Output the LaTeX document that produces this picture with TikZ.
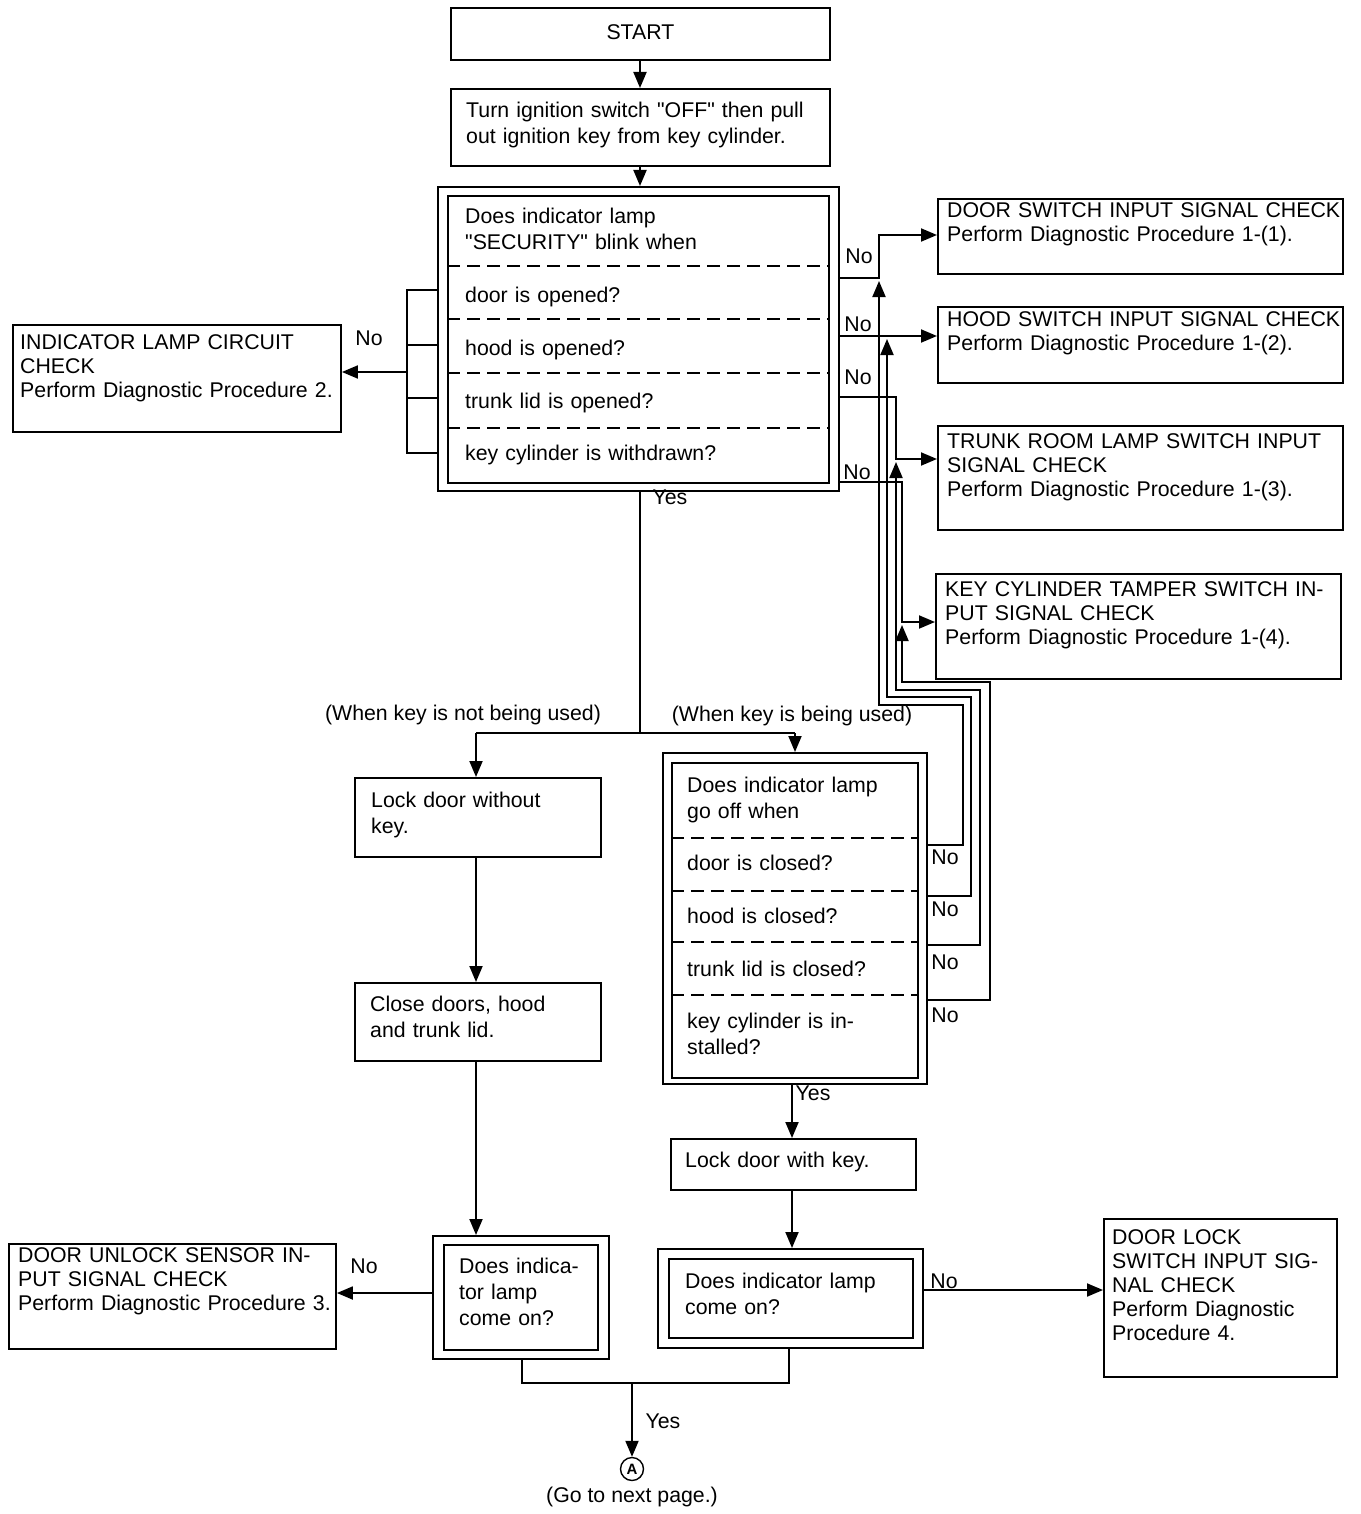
\documentclass[tikz,border=0pt]{standalone}
\usepackage{fontspec}
\setmainfont{Liberation Sans}[Ligatures=TeXOff]
\usetikzlibrary{arrows.meta,calc}
\newcommand\fsA{\fontsize{21.3}{24}\selectfont}
\newcommand\fsB{\fontsize{21.3}{26}\selectfont}
\begin{document}
\begin{tikzpicture}[x=1pt,y=-1pt,
  box/.style={draw, line width=1.9pt, rectangle, inner sep=0pt, anchor=north west},
  inbox/.style={draw, line width=1.6pt, rectangle, inner sep=0pt, anchor=north west},
  txa/.style={font=\fsA, align=left, text width=420pt, inner sep=0pt, anchor=base west},
  txb/.style={font=\fsB, align=left, text width=420pt, inner sep=0pt, anchor=base west},
  lbl/.style={font=\fsA, inner sep=0pt},
  conn/.style={line width=1.9pt},
  arr/.style={line width=1.9pt, -{Triangle[length=16pt,width=13pt]}},
  divd/.style={line width=1.5pt, dash pattern=on 13pt off 7pt},
]
\fill[white] (0,0) rectangle (1360,1514);
\useasboundingbox (0,0) rectangle (1360,1514);

% START and first step
\node[box, font=\fsA, text depth=4pt, minimum width=379pt, minimum height=52pt] (start) at (450,7) {START};
\node[box, minimum width=379pt, minimum height=77pt] (turn) at (450,88) {};
\node[txb] (turnt) at (466,117.5) {Turn ignition switch "OFF" then pull\\out ignition key from key cylinder.};
\draw[arr] (start.south -| 640,0) -- (turn.north -| 640,0);

% first decision box
\node[box, minimum width=401pt, minimum height=304pt] (q1) at (437,186) {};
\node[inbox, minimum width=381pt, minimum height=287pt] (q1in) at (447,195) {};
\draw[arr] (turn.south -| 640,0) -- (q1.north -| 640,0);
\draw[divd] (447,266) -- (828,266);
\draw[divd] (447,319) -- (828,319);
\draw[divd] (447,373) -- (828,373);
\draw[divd] (447,428) -- (828,428);
\node[txb] (q1t) at (465,223.5) {Does indicator lamp\\"SECURITY" blink when};
\node[txa] (q1a) at (465,302.5) {door is opened?};
\node[txa] (q1b) at (465,355.5) {hood is opened?};
\node[txa] (q1c) at (465,408.5) {trunk lid is opened?};
\node[txa] (q1d) at (465,460.5) {key cylinder is withdrawn?};

% left check
\node[box, minimum width=328pt, minimum height=107pt] (ind) at (12,324) {};
\node[txa] (indt) at (20,349.5) {INDICATOR LAMP CIRCUIT\\CHECK\\Perform Diagnostic Procedure 2.};
\draw[conn] (q1.west |- 0,290) -- (407,290) -- (407,453) -- (q1.west |- 0,453);
\draw[conn] (407,345) -- (q1.west |- 0,345);
\draw[conn] (407,398) -- (q1.west |- 0,398);
\draw[arr] (407,372) -- (ind.east |- 0,372);
\node[lbl] (no0) at (369,338) {No};

% right checks
\node[box, minimum width=405pt, minimum height=75pt] (dsw) at (937,198) {};
\node[txa] (dswt) at (947,217.5) {DOOR SWITCH INPUT SIGNAL CHECK\\Perform Diagnostic Procedure 1-(1).};
\node[box, minimum width=405pt, minimum height=76pt] (hsw) at (937,306) {};
\node[txa] (hswt) at (947,326.5) {HOOD SWITCH INPUT SIGNAL CHECK\\Perform Diagnostic Procedure 1-(2).};
\node[box, minimum width=405pt, minimum height=104pt] (tsw) at (937,425) {};
\node[txa] (tswt) at (947,448.5) {TRUNK ROOM LAMP SWITCH INPUT\\SIGNAL CHECK\\Perform Diagnostic Procedure 1-(3).};
\node[box, minimum width=405pt, minimum height=105pt] (ksw) at (935,573) {};
\node[txa] (kswt) at (945,596.5) {KEY CYLINDER TAMPER SWITCH IN-\\PUT SIGNAL CHECK\\Perform Diagnostic Procedure 1-(4).};

\coordinate (j1) at (879,278);
\coordinate (j2) at (887,336);
\coordinate (j3) at (896,459);
\coordinate (j4) at (902,622);
\draw[arr] (q1.east |- j1) -- (j1) -- (879,235) -- (dsw.west |- 0,235);
\draw[arr] (q1.east |- j2) -- (hsw.west |- j2);
\draw[arr] (q1.east |- 0,397) -| (j3) -- (tsw.west |- j3);
\draw[arr] (q1.east |- 0,482) -| (j4) -- (ksw.west |- j4);
\node[lbl] (no1) at (859,256) {No};
\node[lbl] (no2) at (858,324) {No};
\node[lbl] (no3) at (858,377) {No};
\node[lbl] (no4) at (857,472) {No};

% Yes split
\coordinate (ysplit) at (640,733);
\draw[conn] (q1.south -| ysplit) -- (ysplit);
\node[lbl] (yes1) at (670,497) {Yes};
\draw[conn] (476,733) -- (795,733);
\node[lbl] (wk1) at (463,715) {(When key is not being used)};
\node[lbl] (wk2) at (792,716) {(When key is being used)};

% left column
\node[box, minimum width=246pt, minimum height=79pt] (lk1) at (354,777) {};
\node[txb] (lk1t) at (371,807.5) {Lock door without\\key.};
\node[box, minimum width=246pt, minimum height=78pt] (cl) at (354,982) {};
\node[txb] (clt) at (370,1011.5) {Close doors, hood\\and trunk lid.};
\draw[arr] (476,733) -- (lk1.north -| 476,0);
\draw[arr] (lk1.south -| 476,0) -- (cl.north -| 476,0);

\node[box, minimum width=176pt, minimum height=123pt] (q3) at (432,1235) {};
\node[inbox, minimum width=154pt, minimum height=105pt] (q3in) at (443,1244) {};
\node[txb] (q3t) at (459,1273.5) {Does indica-\\tor lamp\\come on?};
\draw[arr] (cl.south -| 476,0) -- (q3.north -| 476,0);

\node[box, minimum width=327pt, minimum height=105pt] (du) at (8,1243) {};
\node[txa] (dut) at (18,1262.5) {DOOR UNLOCK SENSOR IN-\\PUT SIGNAL CHECK\\Perform Diagnostic Procedure 3.};
\draw[arr] (q3.west |- 0,1293) -- (du.east |- 0,1293);
\node[lbl] (no5) at (364,1266) {No};

% second decision box
\node[box, minimum width=264pt, minimum height=331pt] (q2) at (662,752) {};
\node[inbox, minimum width=246pt, minimum height=315pt] (q2in) at (671,762) {};
\draw[arr] (795,733) -- (q2.north -| 795,0);
\draw[divd] (671,838) -- (917,838);
\draw[divd] (671,891) -- (917,891);
\draw[divd] (671,942) -- (917,942);
\draw[divd] (671,995) -- (917,995);
\node[txb] (q2t) at (687,792.5) {Does indicator lamp\\go off when};
\node[txa] (q2a) at (687,870.5) {door is closed?};
\node[txa] (q2b) at (687,923.5) {hood is closed?};
\node[txa] (q2c) at (687,976.5) {trunk lid is closed?};
\node[txb] (q2d) at (687,1028.5) {key cylinder is in-\\stalled?};

% return lines
\draw[arr] (q2.east |- 0,845) -- (963,845) -- (963,705) -- (879,705) -- ($(j1)+(0,3)$);
\draw[arr] (q2.east |- 0,896) -- (971,896) -- (971,697) -- (887,697) -- ($(j2)+(0,3)$);
\draw[arr] (q2.east |- 0,945) -- (980,945) -- (980,690) -- (896,690) -- ($(j3)+(0,3)$);
\draw[arr] (q2.east |- 0,1000) -- (990,1000) -- (990,682) -- (902,682) -- ($(j4)+(0,3)$);
\node[lbl] (no6) at (945,857) {No};
\node[lbl] (no7) at (945,909) {No};
\node[lbl] (no8) at (945,962) {No};
\node[lbl] (no9) at (945,1015) {No};

% lock with key
\node[box, minimum width=245pt, minimum height=51pt] (lkk) at (670,1138) {};
\node[txa] (lkkt) at (685,1167.5) {Lock door with key.};
\draw[arr] (q2.south -| 792,0) -- (lkk.north -| 792,0);
\node[lbl] (yes2) at (813,1093) {Yes};

\node[box, minimum width=265pt, minimum height=99pt] (q4) at (657,1248) {};
\node[inbox, minimum width=244pt, minimum height=79pt] (q4in) at (668,1258) {};
\node[txb] (q4t) at (685,1288.5) {Does indicator lamp\\come on?};
\draw[arr] (lkk.south -| 792,0) -- (q4.north -| 792,0);

\node[box, minimum width=233pt, minimum height=158pt] (dl) at (1103,1218) {};
\node[txa] (dlt) at (1112,1244.5) {DOOR LOCK\\SWITCH INPUT SIG-\\NAL CHECK\\Perform Diagnostic\\Procedure 4.};
\draw[arr] (q4.east |- 0,1290) -- (dl.west |- 0,1290);
\node[lbl] (no10) at (944,1281) {No};

% merge
\node[draw, circle, line width=1.4pt, inner sep=0pt, minimum size=23pt, font=\bfseries\fontsize{15}{15}\selectfont] (circA) at (632,1469) {A};
\draw[conn] (q3.south -| 522,0) -- (522,1383) -- (789,1383) -- (q4.south -| 789,0);
\draw[arr] (632,1383) -- (circA.north);
\node[lbl] (yes3) at (663,1421) {Yes};
\node[lbl] (next) at (632,1497) {(Go to next page.)};
\end{tikzpicture}
\end{document}
